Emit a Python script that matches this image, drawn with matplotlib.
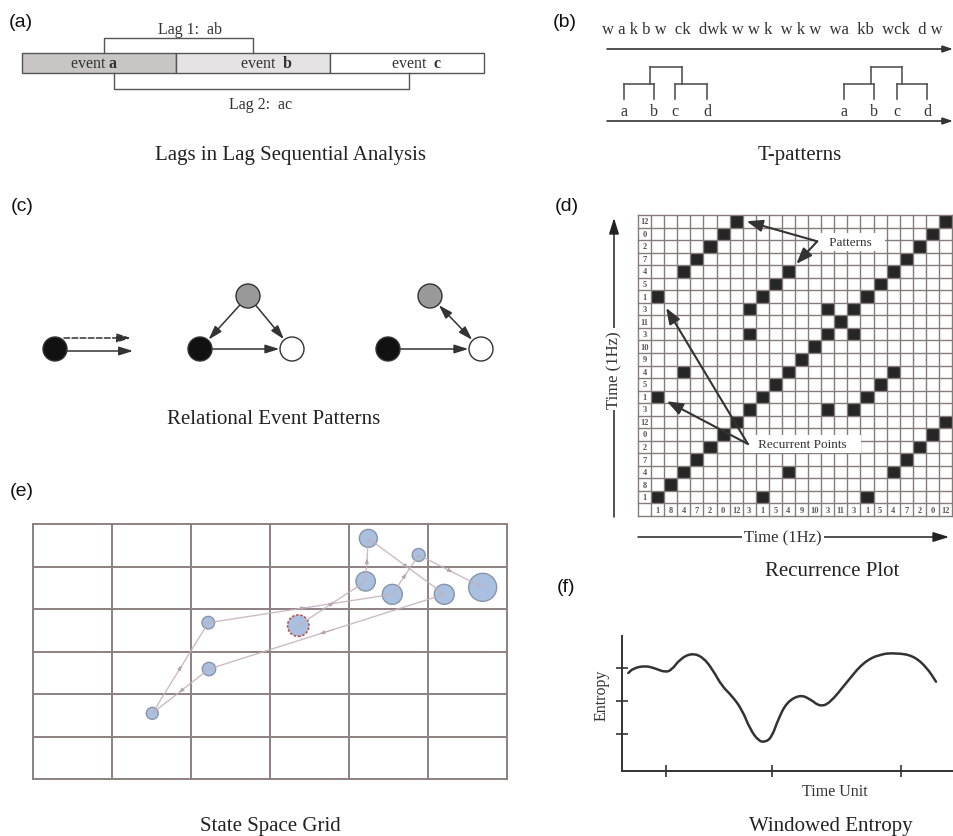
import numpy as np
import matplotlib
matplotlib.use("Agg")
import matplotlib.pyplot as plt
from matplotlib.patches import Rectangle, Circle, PathPatch
from matplotlib.path import Path

W, H = 954, 837
SERIF = ['Liberation Serif', 'DejaVu Serif']
SANS = ['Liberation Sans', 'DejaVu Sans']
plt.rcParams['font.family'] = SERIF
plt.rcParams['mathtext.fontset'] = 'custom'
plt.rcParams['mathtext.rm'] = 'Liberation Serif'
plt.rcParams['mathtext.bf'] = 'Liberation Serif:bold'

# ---------------- data ----------------
panel_labels = ['(a)', '(b)', '(c)', '(d)', '(e)', '(f)']
panel_label_pos = [(9, 22), (553, 22), (11, 206), (555, 206), (10, 492), (557, 587)]
panel_titles = ['Lags in Lag Sequential Analysis', 'T-patterns', 'Relational Event Patterns',
                'Recurrence Plot', 'State Space Grid', 'Windowed Entropy']
panel_title_pos = [(291, 155), (800, 155), (274, 420), (832, 572), (270, 827), (831, 827)]

# (a) lag sequential analysis
lag_events = ['a', 'b', 'c']
lag_event_colors = ['#c9c5c5', '#e5e3e3', '#ffffff']
lag_event_label_x = [0.468, 1.59, 2.565]
lag_names = ['Lag 1:  ab', 'Lag 2:  ac']
lag_spans = [(0.53, 1.50), (0.60, 2.51)]
lag_levels = [1.75, -0.8]
lag_name_x = [1.09, 1.55]
lag_name_y = [2.2, -1.55]

# (b) T-patterns
tp_stream = "w a k b w  ck  dwk w w k  w k w  wa  kb  wck  d w"
tp_letters = ['a', 'b', 'c', 'd']
tp_leaf_x = [[624, 654, 675, 707], [844, 874, 897, 927]]
tp_join_x = [[650, 682], [871, 902]]
tp_axis_y = [50, 122]

# (c) relational event patterns
rel_node_x = [55, 200, 292, 248, 388, 430, 481]
rel_node_y = [350, 350, 350, 297, 350, 297, 350]
rel_node_fill = ['#111111', '#111111', '#ffffff', '#999999', '#111111', '#999999', '#ffffff']
rel_edges = [(3, 1, '-|>'), (3, 2, '-|>'), (1, 2, '-|>'), (4, 6, '-|>'), (5, 6, '<|-|>')]
rel_open_arrows = [((64, 339), (131, 339), '--'), ((66, 352), (133, 352), '-')]

# (d) recurrence plot
rp_sequence = [1, 8, 4, 7, 2, 0, 12, 3, 1, 5, 4, 9, 10, 3, 11, 3, 1, 5, 4, 7, 2, 0, 12]
rp_notes = ['Patterns', 'Recurrent Points']
rp_note_xy = [(15.2, 20.85), (11.6, 4.74)]
rp_note_from = [(12.7, 20.9), (7.4, 4.74)]
rp_note_targets = [[(7.3, 22.5), (11.1, 19.1)], [(1.15, 15.6), (1.2, 8.15)]]

# (e) state space grid
ssg_x = [4.245, 4.882, 4.211, 4.548, 5.206, 5.692, 2.219, 3.358, 2.228, 1.510]
ssg_y = [5.662, 5.271, 4.651, 4.345, 4.345, 4.510, 3.678, 3.608, 2.588, 1.545]
ssg_duration = [9, 6.5, 9.7, 10, 10, 14, 6.3, 10.7, 6.7, 6]
ssg_path = [7, 2, 0, 4, 8, 9, 6, 3, 1, 5]
ssg_start = 7

# (f) windowed entropy
ent_time = [6.6, 11.6, 23.3, 33.3, 43.3, 50, 58.3, 70, 81.6, 91.6, 100, 110, 120, 128.3,
            136.6, 143.3, 150, 156.6, 165, 178.3, 188.3, 198.3, 208.3, 225, 241.6, 258.3,
            275, 291.6, 305, 314.3]
ent_value = [97.7, 102.4, 105, 102.4, 98.4, 100.7, 111.7, 117.7, 113.4, 100, 85, 75, 61.7,
             41.7, 30, 28.4, 33.4, 51.7, 68.4, 76, 71.7, 64, 67.7, 88.4, 108.4, 116.7,
             117.7, 115, 103.4, 89]
ent_xticks = [44, 150, 279]
ent_yticks = [36.7, 70, 102.4]

# ---------------- figure ----------------
fig = plt.figure(figsize=(W / 100, H / 100), dpi=100)
fig.patch.set_facecolor('white')


def px_axes(x0, y0, x1, y1, off=True):
    ax = fig.add_axes([x0 / W, 1 - y1 / H, (x1 - x0) / W, (y1 - y0) / H])
    if off:
        ax.set_axis_off()
    return ax


LINE = '#555555'
TXT = '#333333'

# ---- (a) ----
axA = px_axes(22, 20, 484, 120)
axA.set_xlim(0, 3)
axA.set_ylim(-2.3, 2.7)
for k, (ev, col, lx) in enumerate(zip(lag_events, lag_event_colors, lag_event_label_x)):
    axA.add_patch(Rectangle((k, 0), 1, 1, facecolor=col, edgecolor=LINE, lw=1.0, clip_on=False))
    sep = ' ' if k == 0 else '  '
    axA.text(lx, 0.5, 'event' + sep + r'$\mathbf{' + ev + '}$', ha='center', va='center',
             fontsize=11.5, color=TXT)
for (s, e), lev, name, nx, ny in zip(lag_spans, lag_levels, lag_names, lag_name_x, lag_name_y):
    base = 1 if lev > 0 else 0
    axA.plot([s, s, e, e], [base, lev, lev, base], color=LINE, lw=1.0, clip_on=False)
    axA.text(nx, ny, name, ha='center', va='center', fontsize=11.5, color=TXT)

# ---- (b) ----
axB = px_axes(600, 20, 954, 135)
axB.set_xlim(600, 954)
axB.set_ylim(135, 20)
axB.text(772, 30, tp_stream, ha='center', va='center', fontsize=12, color=TXT)
for yl in tp_axis_y:
    axB.annotate('', xy=(953, yl), xytext=(607, yl),
                 arrowprops=dict(arrowstyle='-|>,head_length=0.6,head_width=0.2', mutation_scale=10,
                                 color='#333333', lw=1.2, shrinkA=0, shrinkB=0))
for leaves, joins in zip(tp_leaf_x, tp_join_x):
    for x in leaves:
        axB.plot([x, x], [100, 85], color=LINE, lw=1.2)
    axB.plot([leaves[0], leaves[1]], [85, 85], color=LINE, lw=1.2)
    axB.plot([leaves[2], leaves[3]], [85, 85], color=LINE, lw=1.2)
    for x in joins:
        axB.plot([x, x], [85, 68], color=LINE, lw=1.2)
    axB.plot(joins, [68, 68], color=LINE, lw=1.2)
    for x, l in zip(leaves, tp_letters):
        axB.text(x, 112, l, ha='center', va='center', fontsize=11.5, color=TXT)

# ---- (c) ----
axC = px_axes(0, 255, 500, 390)
axC.set_xlim(0, 500)
axC.set_ylim(390, 255)
R = 12
for x, y, f in zip(rel_node_x, rel_node_y, rel_node_fill):
    axC.add_patch(Circle((x, y), R, facecolor=f, edgecolor='#333333', lw=1.0, zorder=3))
for a, b, st in rel_edges:
    axC.annotate('', xy=(rel_node_x[b], rel_node_y[b]), xytext=(rel_node_x[a], rel_node_y[a]),
                 arrowprops=dict(arrowstyle=st + ',head_length=0.7,head_width=0.22',
                                 mutation_scale=12, color='#333333', lw=1.1,
                                 shrinkA=R * 0.72 + 0.5, shrinkB=R * 0.72 + 0.5))
for p0, p1, ls in rel_open_arrows:
    axC.annotate('', xy=p1, xytext=p0,
                 arrowprops=dict(arrowstyle='-|>,head_length=0.7,head_width=0.22', mutation_scale=12,
                                 color='#333333', lw=1.1, linestyle=ls, shrinkA=0, shrinkB=0))

# ---- (d) ----
axD = px_axes(638, 216, 952, 517)
n = len(rp_sequence)
axD.set_xlim(-1, n)
axD.set_ylim(-1, n)
for i in range(n):
    for j in range(n):
        if rp_sequence[i] == rp_sequence[j]:
            axD.add_patch(Rectangle((j, i), 1, 1, facecolor='#262626', edgecolor='none', zorder=1))
GRID_D = '#857b7b'
for k in range(-1, n + 1):
    axD.plot([k, k], [-1, n], color=GRID_D, lw=1.0, clip_on=False, zorder=2)
    axD.plot([-1, n], [k, k], color=GRID_D, lw=1.0, clip_on=False, zorder=2)
for j, v in enumerate(rp_sequence):
    axD.text(j + 0.5, -0.5, str(v), ha='center', va='center', fontsize=6, color='#555555',
             fontweight='bold')
    axD.text(-0.5, j + 0.5, str(v), ha='center', va='center', fontsize=6, color='#555555',
             fontweight='bold')
for note, xy, src, targets in zip(rp_notes, rp_note_xy, rp_note_from, rp_note_targets):
    axD.text(xy[0], xy[1], '   ' + note + '   ', ha='center', va='center', fontsize=9.5,
             color=TXT, zorder=4,
             bbox=dict(boxstyle='square,pad=0.25', facecolor='white', edgecolor='none'))
    for t in targets:
        axD.annotate('', xy=t, xytext=src, zorder=5,
                     arrowprops=dict(arrowstyle='-|>,head_length=0.8,head_width=0.3',
                                     mutation_scale=12, color='#333333', lw=1.5,
                                     shrinkA=0, shrinkB=0))

# ---- (e) ----
axE = px_axes(33, 525, 507, 780)
axE.set_xlim(0, 6)
axE.set_ylim(0, 6)
GRID_E = '#8c8080'
for k in range(7):
    axE.plot([k, k], [0, 6], color=GRID_E, lw=1.4, clip_on=False, zorder=1)
    axE.plot([0, 6], [k, k], color=GRID_E, lw=1.4, clip_on=False, zorder=1)
sizes = [(1.44 * r) ** 2 for r in ssg_duration]
normal = [i for i in range(len(ssg_x)) if i != ssg_start]
axE.scatter([ssg_x[i] for i in normal], [ssg_y[i] for i in normal], s=[sizes[i] for i in normal],
            facecolor='#a9c0e0', edgecolor='#8994a8', linewidth=1.0, zorder=3)
axE.scatter([ssg_x[ssg_start]], [ssg_y[ssg_start]], s=[sizes[ssg_start]], facecolor='#a9c0e0',
            edgecolor='#c0504d', linewidth=1.2, linestyle=(0, (1.5, 1.0)), zorder=3)
px_ = [ssg_x[i] for i in ssg_path]
py_ = [ssg_y[i] for i in ssg_path]
axE.plot(px_, py_, color='#c4b0ba', lw=1.0, alpha=0.85, zorder=4)
for a, b in zip(ssg_path[:-1], ssg_path[1:]):
    mx, my = (ssg_x[a] + ssg_x[b]) / 2, (ssg_y[a] + ssg_y[b]) / 2
    dx, dy = (ssg_x[b] - ssg_x[a]) * 0.03, (ssg_y[b] - ssg_y[a]) * 0.03
    axE.annotate('', xy=(mx + dx, my + dy), xytext=(mx - dx, my - dy), zorder=4,
                 arrowprops=dict(arrowstyle='-|>,head_length=0.5,head_width=0.2', mutation_scale=6,
                                 color='#b8a4ae', lw=0.6, shrinkA=0, shrinkB=0))

# ---- (f) ----
axF = px_axes(621.7, 637, 954, 771.7, off=False)
axF.set_xlim(0, 332.3)
axF.set_ylim(0, 134.7)
axF.patch.set_alpha(0)
# smooth rendering of the read points (quadratic B-spline path drawn by matplotlib)
pts = list(zip(ent_time, ent_value))
verts = [pts[0], ((pts[0][0] + pts[1][0]) / 2, (pts[0][1] + pts[1][1]) / 2)]
codes = [Path.MOVETO, Path.LINETO]
for k in range(1, len(pts) - 1):
    verts += [pts[k], ((pts[k][0] + pts[k + 1][0]) / 2, (pts[k][1] + pts[k + 1][1]) / 2)]
    codes += [Path.CURVE3, Path.CURVE3]
verts.append(pts[-1])
codes.append(Path.LINETO)
axF.add_patch(PathPatch(Path(verts, codes), facecolor='none', edgecolor='#333333', lw=1.8,
                        capstyle='round', joinstyle='round'))
for sp in ['top', 'right']:
    axF.spines[sp].set_visible(False)
for sp in ['left', 'bottom']:
    axF.spines[sp].set_color('#333333')
    axF.spines[sp].set_linewidth(1.4)
axF.set_xticks(ent_xticks)
axF.set_yticks(ent_yticks)
axF.tick_params(direction='inout', length=9, width=1.2, color='#333333',
                labelbottom=False, labelleft=False)

# ---- overlay: labels, titles, decorations ----
ov = px_axes(0, 0, W, H)
ov.set_xlim(0, W)
ov.set_ylim(H, 0)
for lab, (x, y) in zip(panel_labels, panel_label_pos):
    ov.text(x, y, lab, ha='left', va='center', fontsize=14, family=SANS, color='#111111')
for t, (x, y) in zip(panel_titles, panel_title_pos):
    ov.text(x, y, t, ha='center', va='center', fontsize=15, color='#222222')

arrow_kw = dict(arrowstyle='-|>,head_length=0.8,head_width=0.25', mutation_scale=12,
                color='#222222', lw=1.1, shrinkA=0, shrinkB=0)
ov.annotate('', xy=(614, 219), xytext=(614, 518), arrowprops=arrow_kw)
ov.annotate('', xy=(949, 538), xytext=(638, 538), arrowprops=arrow_kw)
ov.text(614, 370, 'Time (1Hz)', rotation=90, ha='center', va='center', fontsize=12, color=TXT,
        zorder=6, bbox=dict(boxstyle='square,pad=0.15', facecolor='white', edgecolor='none'))
ov.text(783, 538, 'Time (1Hz)', ha='center', va='center', fontsize=12, color=TXT,
        zorder=6, bbox=dict(boxstyle='square,pad=0.15', facecolor='white', edgecolor='none'))
ov.text(602, 695, 'Entropy', rotation=90, ha='center', va='center', fontsize=11.5, color=TXT)
ov.text(835, 792, 'Time Unit', ha='center', va='center', fontsize=11.5, color=TXT)

fig.savefig('out.png', dpi=100, facecolor='white')
